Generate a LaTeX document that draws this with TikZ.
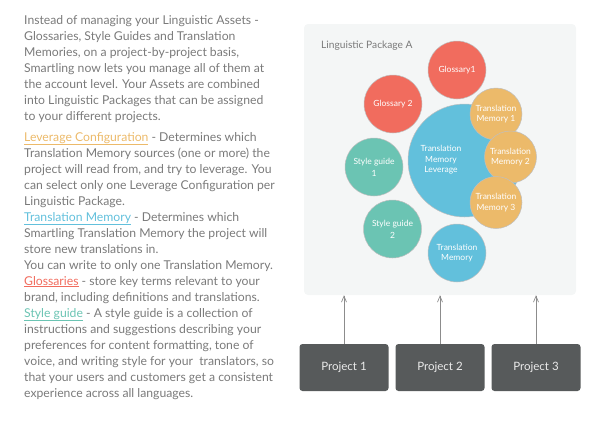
\documentclass[tikz,border=0pt]{standalone}
\usepackage{fontspec}
\setmainfont{Lato}
\usetikzlibrary{arrows.meta}
\definecolor{txt}{HTML}{7A7A7A}
\definecolor{cred}{HTML}{F16C5E}
\definecolor{corange}{HTML}{ECBA6A}
\definecolor{cblue}{HTML}{62C0DC}
\definecolor{cteal}{HTML}{6BC4B3}
\definecolor{panelbg}{HTML}{F4F6F6}
\definecolor{projbg}{HTML}{575A5B}
\definecolor{arrowc}{HTML}{8C8C8C}
\tikzset{
  line/.style={anchor=base west, inner sep=0pt, text=txt, font=\fontsize{12.2}{16}\selectfont},
  bubble/.style={circle, draw=black!25, line width=0.5pt, inner sep=0pt, text=white, align=center,
     font=\fontsize{8.5}{10.5}\selectfont},
  proj/.style={rectangle, rounded corners=3pt, fill=projbg, text=white!92!black, minimum width=89pt,
     minimum height=47pt, inner sep=0pt, font=\fontsize{11.5}{14}\selectfont},
  upar/.style={draw=arrowc, line width=0.7pt, -{Straight Barb[length=6pt,width=5pt]}}
}
\begin{document}
\begin{tikzpicture}[x=1pt,y=-1pt]
\useasboundingbox (0,0) rectangle (595,421);
% left text
\node[line] (l1) at (24,24) {Instead of managing your Linguistic Assets -};
\node[line] (l2) at (24,40) {Glossaries, Style Guides and Translation};
\node[line] (l3) at (24,56) {Memories, on a project-by-project basis,};
\node[line] (l4) at (24,72) {Smartling now lets you manage all of them at};
\node[line] (l5) at (24,88) {the account level. Your Assets are combined};
\node[line] (l6) at (24,104) {into Linguistic Packages that can be assigned};
\node[line] (l7) at (24,120) {to your different projects.};
\node[line] (l8) at (24,141) {\textcolor{corange}{\underline{Leverage Configuration}} - Determines which};
\node[line] (l9) at (24,157) {Translation Memory sources (one or more) the};
\node[line] (l10) at (24,173) {project will read from, and try to leverage. You};
\node[line] (l11) at (24,189) {can select only one Leverage Configuration per};
\node[line] (l12) at (24,205) {Linguistic Package.};
\node[line] (l13) at (24,221) {\textcolor{cblue}{\underline{Translation Memory}} - Determines which};
\node[line] (l14) at (24,237) {Smartling Translation Memory the project will};
\node[line] (l15) at (24,253) {store new translations in.};
\node[line] (l16) at (24,269) {You can write to only one Translation Memory.};
\node[line] (l17) at (24,285) {\textcolor{cred}{\underline{Glossaries}} - store key terms relevant to your};
\node[line] (l18) at (24,301) {brand, including definitions and translations.};
\node[line] (l19) at (24,317) {\textcolor{cteal}{\underline{Style guide}} - A style guide is a collection of};
\node[line] (l20) at (24,333) {instructions and suggestions describing your};
\node[line] (l21) at (24,349) {preferences for content formatting, tone of};
\node[line] (l22) at (24,365) {voice, and writing style for your\ \ translators, so};
\node[line] (l23) at (24,381) {that your users and customers get a consistent};
\node[line] (l24) at (24,397) {experience across all languages.};
% panel
\node[rectangle, rounded corners=4pt, fill=panelbg, minimum width=272pt, minimum height=271pt, inner sep=0pt]
  (panel) at (440,159.5) {};
\node[anchor=base west, inner sep=0pt, text=txt, font=\fontsize{10.2}{12}\selectfont] (title) at (321,48) {Linguistic Package A};
% bubbles
\node[bubble, fill=cblue, minimum size=113pt] (lev) at (464.5,160.5) {};
\node[text=white, align=center, inner sep=0pt, font=\fontsize{8.5}{10.5}\selectfont] (levt) at (441,160) {Translation\\Memory\\Leverage};
\node[bubble, fill=cred, minimum size=58pt] (g1) at (457,70) {Glossary1};
\node[bubble, fill=cred, minimum size=58pt] (g2) at (393,104) {Glossary 2};
\node[bubble, fill=corange, minimum size=52pt] (tm1) at (496,114) {Translation\\Memory 1};
\node[bubble, fill=corange, minimum size=52pt] (tm2) at (510.5,157) {Translation\\Memory 2};
\node[bubble, fill=corange, minimum size=52pt] (tm3) at (496,202.5) {Translation\\Memory 3};
\node[bubble, fill=cteal, minimum size=58pt, font=\fontsize{8.5}{12}\selectfont] (s1) at (374,167) {Style guide\\1};
\node[bubble, fill=cteal, minimum size=58pt, font=\fontsize{8.5}{12}\selectfont] (s2) at (392.5,229) {Style guide\\2};
\node[bubble, fill=cblue, minimum size=58pt] (tm) at (457,253) {Translation\\Memory};
% projects
\node[proj] (p1) at (344,367.5) {Project 1};
\node[proj] (p2) at (440,367.5) {Project 2};
\node[proj] (p3) at (536,367.5) {Project 3};
\draw[upar] (p1.north) -- (p1.north |- panel.south);
\draw[upar] (p2.north) -- (p2.north |- panel.south);
\draw[upar] (p3.north) -- (p3.north |- panel.south);
\end{tikzpicture}
\end{document}
